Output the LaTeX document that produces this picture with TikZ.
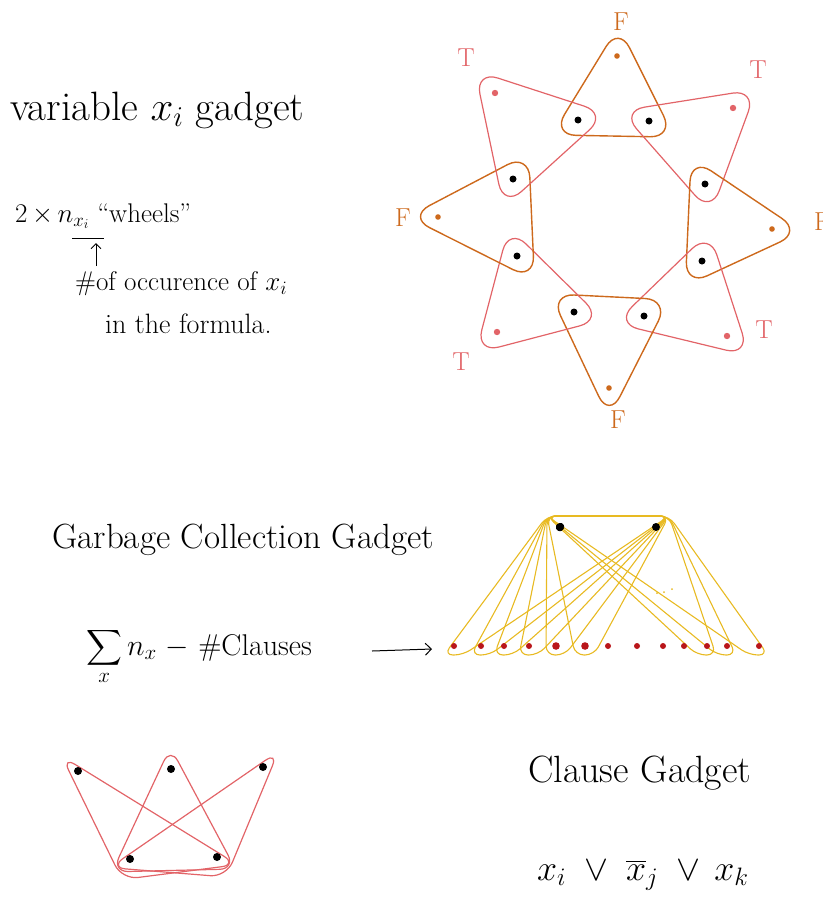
\RequirePackage{fix-cm}
\documentclass[tikz,border=0pt]{standalone}
\usepackage{exscale}
\usetikzlibrary{calc,arrows.meta}
\definecolor{orng}{RGB}{205,105,28}
\definecolor{pnk}{RGB}{226,100,104}
\definecolor{ylw}{RGB}{232,186,34}
\definecolor{dred}{RGB}{185,22,26}
\newcommand\rtri[6]{%
  \path (barycentric cs:#2=1,#3=1,#4=1) coordinate (cc);
  \draw[#1,rounded corners=#6] ($(#2)!-#5!(cc)$) -- ($(#3)!-#5!(cc)$) -- ($(#4)!-#5!(cc)$) -- cycle;}
\newcommand\yloop[1]{%
  \draw[yline,rounded corners=9pt] ($(g1)+(-13,-11)$) -- ($(g2)+(13,-11)$) -- ($(#1)+(9,9)$) -- ($(#1)+(-10,9)$) -- cycle;}
\begin{document}
\begin{tikzpicture}[x=1pt,y=-1pt,
  oline/.style={draw=orng,line width=1.4pt},
  pline/.style={draw=pnk,line width=1.2pt},
  yline/.style={draw=ylw,line width=1.1pt},
  rline/.style={draw=pnk,line width=1.2pt},
  txt/.style={anchor=base west,inner sep=0},
  lbl/.style={font=\fontsize{26}{30}\selectfont,inner sep=0}]
\useasboundingbox (0,0) rectangle (822,913);

% ---------- variable gadget text ----------
\node[txt,font=\fontsize{41}{46}\selectfont] (title1) at (10,120) {variable $x_i$ gadget};
\node[txt,font=\fontsize{27}{30}\selectfont] (wheels) at (15,222) {2\,$\times$\,$n_{x_i}$ ``wheels''};
\coordinate (ul1) at (72,238);
\coordinate (ul2) at (104,238);
\draw[line width=1pt] (ul1) -- (ul2);
\coordinate (ar1) at (96,266);
\coordinate (ar2) at (96,243);
\draw[line width=1pt,-{Straight Barb[length=5pt]}] (ar1) -- (ar2);
\node[txt,font=\fontsize{27}{32}\selectfont] (occ) at (75,290) {\#of occurence of $x_i$};
\node[txt,font=\fontsize{28}{32}\selectfont] (form) at (105,333) {in the formula.};

% ---------- wheel ----------
\coordinate (w1) at (578,120);
\coordinate (w2) at (649,121);
\coordinate (w3) at (705,184);
\coordinate (w4) at (702,261);
\coordinate (w5) at (644,316);
\coordinate (w6) at (574,312);
\coordinate (w7) at (517,256);
\coordinate (w8) at (513,179);
\coordinate (fT) at (617,56);
\coordinate (tTR) at (733,108);
\coordinate (fR) at (772,229);
\coordinate (tBR) at (727,336);
\coordinate (fB) at (609,388);
\coordinate (tBL) at (497,332);
\coordinate (fL) at (438,217);
\coordinate (tTL) at (495,93);

\rtri{oline}{w1}{w2}{fT}{30pt}{24pt}
\rtri{pline}{w2}{w3}{tTR}{30pt}{24pt}
\rtri{oline}{w3}{w4}{fR}{30pt}{24pt}
\rtri{pline}{w4}{w5}{tBR}{30pt}{24pt}
\rtri{oline}{w5}{w6}{fB}{30pt}{24pt}
\rtri{pline}{w6}{w7}{tBL}{30pt}{24pt}
\rtri{oline}{w7}{w8}{fL}{30pt}{24pt}
\rtri{pline}{w8}{w1}{tTL}{30pt}{24pt}

\foreach \p in {w1,w2,w3,w4,w5,w6,w7,w8} \fill (\p) circle (3.5pt);
\foreach \p in {fT,fR,fB,fL} \fill[orng] (\p) circle (2.8pt);
\foreach \p in {tTR,tBR,tBL,tTL} \fill[pnk] (\p) circle (3.2pt);

\node[lbl,text=orng] (LfT) at (621,22) {F};
\node[lbl,text=pnk] (LtTL) at (466,58) {T};
\node[lbl,text=pnk] (LtTR) at (758,70) {T};
\node[lbl,text=orng] (LfL) at (403,218) {F};
\node[lbl,text=orng] (LfR) at (822,222) {F};
\node[lbl,text=pnk] (LtBR) at (764,330) {T};
\node[lbl,text=pnk] (LtBL) at (461,362) {T};
\node[lbl,text=orng] (LfB) at (618,420) {F};

% ---------- garbage collection gadget ----------
\node[txt,font=\fontsize{35}{40}\selectfont] (gtitle) at (52,548) {Garbage Collection Gadget};
\node[txt,font=\fontsize{30}{34}\selectfont] (gsum) at (86,655) {$\displaystyle\sum_{x} n_x$ $-$ \#Clauses};
\coordinate (ga1) at (372,651);
\coordinate (ga2) at (432,649);
\draw[line width=1pt,-{Straight Barb[length=6pt]}] (ga1) -- (ga2);

\coordinate (g1) at (560,527);
\coordinate (g2) at (656,527);
\foreach \x [count=\i] in {454,481,504,529,556,585,608,637,663,684,707,727,759}
  \coordinate (v\i) at (\x,646);
\foreach \i in {1,2,3,4,5,6,11,12,13} \yloop{v\i}
\fill (g1) circle (4pt);
\fill (g2) circle (4pt);
\foreach \i in {1,2,3,4,7,8,9,10,11,12,13} \fill[dred] (v\i) circle (3pt);
\foreach \i in {5,6} \fill[dred] (v\i) circle (3.8pt);
\foreach \q [count=\j] in {(657,593),(664,592),(672,589)} \fill[ylw] \q coordinate (dd\j) circle (1pt);

% ---------- clause gadget ----------
\coordinate (c1) at (78,771);
\coordinate (c2) at (171,769);
\coordinate (c3) at (263,767);
\coordinate (b1) at (130,859);
\coordinate (b2) at (217,857);
\rtri{rline}{c1}{b2}{b1}{22pt}{16pt}
\rtri{rline}{c2}{b2}{b1}{22pt}{16pt}
\rtri{rline}{c3}{b2}{b1}{22pt}{16pt}
\foreach \p in {c1,c2,c3,b1,b2} \fill (\p) circle (4pt);

\node[txt,font=\fontsize{38}{42}\selectfont] (ctitle) at (528,782) {Clause Gadget};
\node[txt,font=\fontsize{36}{42}\selectfont] (cform) at (537,880) {$x_i \;\vee\; \overline{x}_j \;\vee\, x_k$};
\end{tikzpicture}
\end{document}
